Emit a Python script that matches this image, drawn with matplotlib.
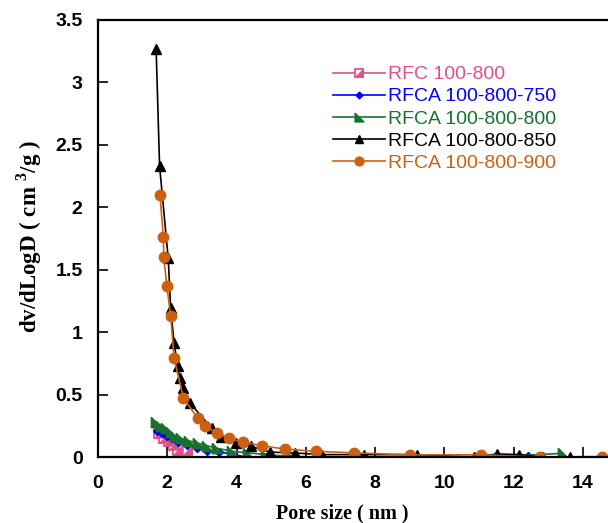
import numpy as np
import matplotlib
matplotlib.use("Agg")
import matplotlib.pyplot as plt
from matplotlib.legend_handler import HandlerTuple

plt.rcParams['font.family'] = ['Liberation Sans', 'DejaVu Sans']
plt.rcParams['mathtext.fontset'] = 'custom'
plt.rcParams['mathtext.rm'] = 'Liberation Serif:bold'
plt.rcParams['mathtext.bf'] = 'Liberation Serif:bold'

# RFC 100-800
x_rfc = [1.76, 1.91, 2.05, 2.20, 2.32, 2.58]
y_rfc = [0.19, 0.15, 0.13, 0.10, 0.06, 0.05]

# RFCA 100-800-750
x_750 = [1.71, 1.84, 2.00, 2.15, 2.32, 2.56, 2.87, 3.16, 3.50, 3.83, 4.27, 4.85, 5.71, 7.4, 9.0, 10.9, 12.4]
y_750 = [0.21, 0.19, 0.17, 0.15, 0.12, 0.10, 0.07, 0.046, 0.04, 0.028, 0.0, 0.0, 0.0, 0.0, 0.0, 0.0, 0.01]

# RFCA 100-800-800
x_800 = [1.67, 1.81, 1.96, 2.10, 2.22, 2.39, 2.63, 2.90, 3.16, 3.45, 3.88, 4.32, 4.85, 5.57, 6.39, 7.6, 9.2, 11.2, 13.42]
y_800 = [0.28, 0.25, 0.23, 0.20, 0.17, 0.15, 0.13, 0.11, 0.09, 0.07, 0.046, 0.034, 0.02, 0.006, 0.0, 0.0, 0.0, 0.0, 0.03]

# RFCA 100-800-850
x_850 = [1.68, 1.78, 2.03, 2.10, 2.20, 2.30, 2.36, 2.46, 2.67, 3.28, 3.55, 3.98, 4.41, 4.96, 5.69,
         6.48, 7.69, 9.21, 10.84, 11.51, 12.15, 12.84, 13.61]
y_850 = [3.27, 2.33, 1.59, 1.19, 0.91, 0.73, 0.63, 0.55, 0.43, 0.23, 0.16, 0.11, 0.087, 0.04, 0.033,
         0.02, 0.02, 0.02, 0.0, 0.025, 0.02, 0.0, 0.0]

# RFCA 100-800-900
x_900 = [1.79, 1.89, 1.90, 1.99, 2.10, 2.20, 2.47, 2.89, 3.09, 3.45, 3.79, 4.20, 4.73, 5.40,
         6.29, 7.40, 9.02, 11.06, 12.75, 14.56]
y_900 = [2.10, 1.76, 1.60, 1.37, 1.13, 0.79, 0.47, 0.31, 0.25, 0.19, 0.15, 0.12, 0.09, 0.065,
         0.046, 0.034, 0.018, 0.018, 0.0, 0.004]

pink = '#E0508A'
blue = '#0000FF'
green = '#17722E'
orange = '#CC6010'

# half filled square (lower right) and a corner triangle
tri_lr = [(1, 1), (1, -1), (-1, -1), (1, 1)]
tri_ll = [(-1, 1), (-1, -1), (1, -1), (-1, 1)]

fig = plt.figure(figsize=(6.08, 5.23), dpi=100)
ax = fig.add_axes([0.161, 0.126, 0.855, 0.836])

l1a, = ax.plot(x_rfc, y_rfc, color=pink, lw=1.2, marker='s', ms=6.5, mfc='white',
               mec=pink, mew=1.3)
l1b, = ax.plot(x_rfc, y_rfc, ls='none', marker=tri_lr, ms=6.5, color=pink)
l2, = ax.plot(x_750, y_750, color=blue, lw=1.2, marker='D', ms=4)
l3, = ax.plot(x_800, y_800, color=green, lw=1.2, marker=tri_ll, ms=7.5)
l4, = ax.plot(x_850, y_850, color='black', lw=1.2, marker='^', ms=7)
l5, = ax.plot(x_900, y_900, color=orange, lw=1.2, marker='o', ms=7.5)

ax.set_xlim(0, 15)
ax.set_ylim(0, 3.5)
ax.set_xticks(np.arange(0, 15, 2))
ax.set_yticks(np.arange(0, 3.51, 0.5))
ax.set_yticklabels(['0', '0.5', '1', '1.5', '2', '2.5', '3', '3.5'])
ax.tick_params(direction='in', length=7, width=1.2, labelsize=14)
ax.tick_params(axis='y', pad=11)
ax.tick_params(axis='x', pad=13)
for lab in ax.get_xticklabels() + ax.get_yticklabels():
    lab.set_fontweight('bold')
for s in ax.spines.values():
    s.set_linewidth(1.6)

ax.set_xlabel('Pore size ( nm )', family='Liberation Serif', fontweight='bold', fontsize=14.5)
ax.xaxis.set_label_coords(0.471, -0.106)
ax.set_ylabel('dv/dLogD ( cm $^{3}$/g )', family='Liberation Serif', fontweight='bold', fontsize=16.5)
ax.yaxis.set_label_coords(-0.103, 0.505)

labels = ['RFC 100-800', 'RFCA 100-800-750', 'RFCA 100-800-800', 'RFCA 100-800-850', 'RFCA 100-800-900']
colors = [pink, blue, green, 'black', orange]
leg = ax.legend([(l1a, l1b), l2, l3, l4, l5], labels, handler_map={tuple: HandlerTuple(ndivide=1, pad=0)},
                loc='upper left', bbox_to_anchor=(0.452, 0.895), frameon=False, fontsize=14,
                handlelength=2.7, handletextpad=0.15, labelspacing=0.23, borderpad=0, borderaxespad=0,
                markerscale=0.85)
for t, c in zip(leg.get_texts(), colors):
    t.set_color(c)

fig.savefig('out.png', dpi=100)
